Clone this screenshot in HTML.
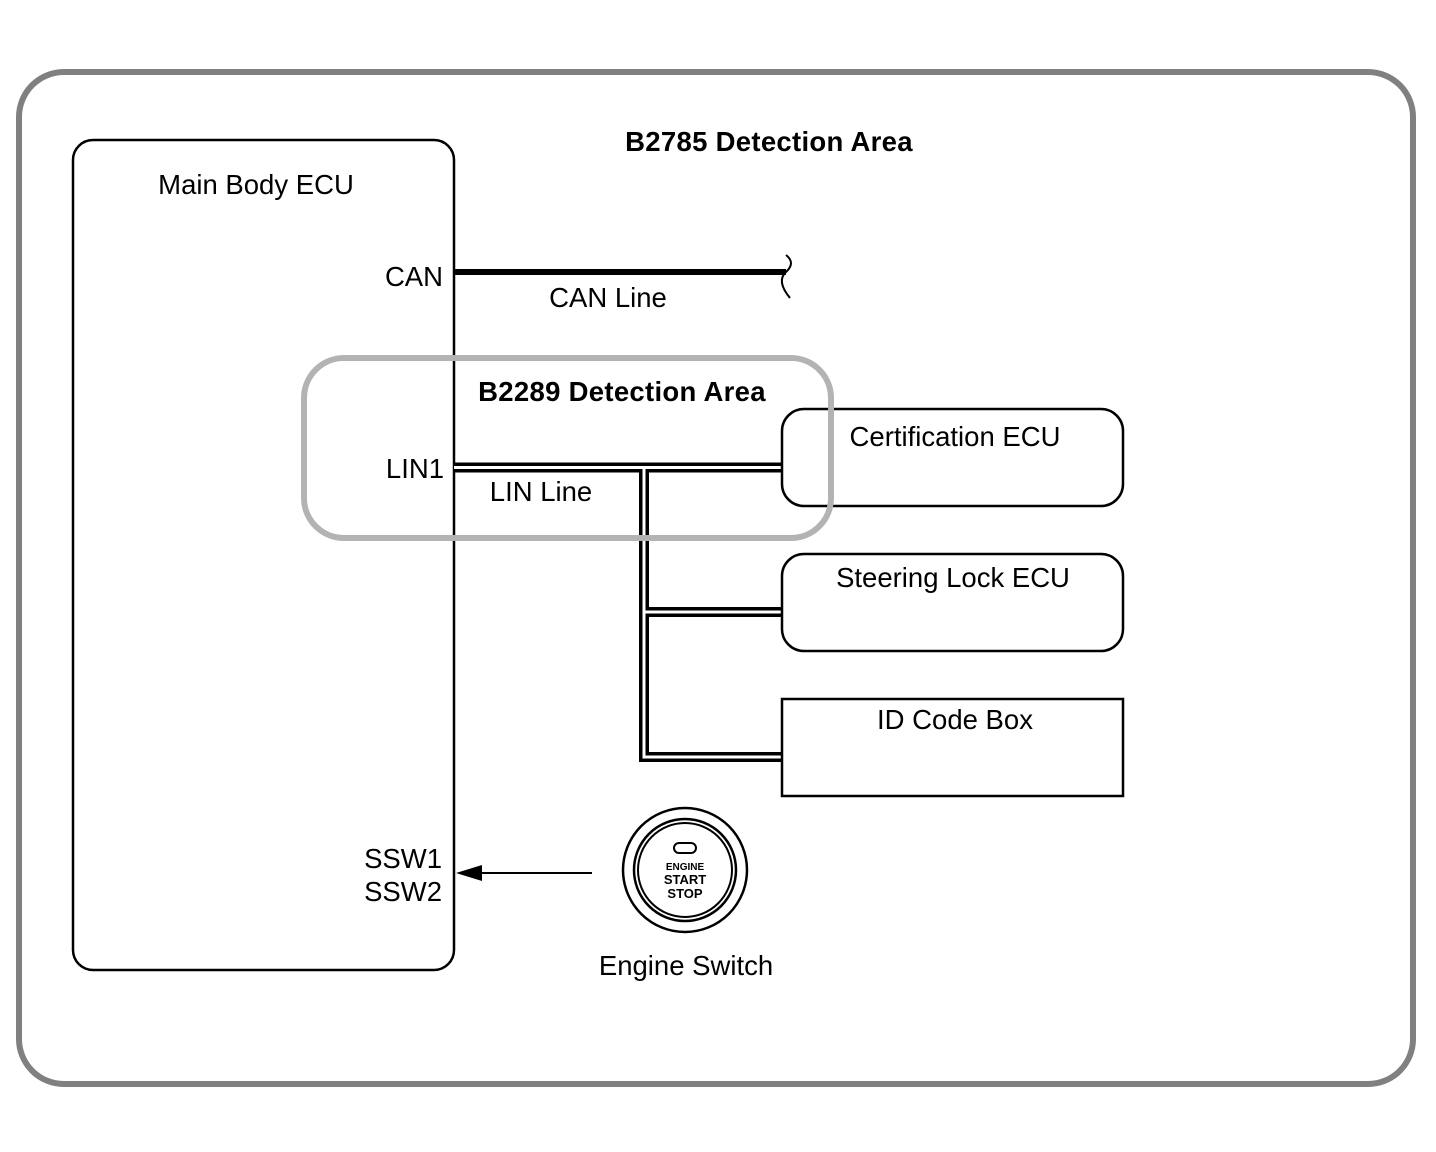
<!DOCTYPE html>
<html><head><style>body{margin:0;background:#fff}svg{display:block}text{font-family:"Liberation Sans",Arial,sans-serif;fill:#000}</style></head><body>
<svg width="1436" height="1152" viewBox="0 0 1436 1152">
<rect x="0" y="0" width="1436" height="1152" fill="#fff"/>
<rect x="19" y="72" width="1394" height="1012" rx="45" fill="none" stroke="#808080" stroke-width="6"/>
<text x="769" y="151" font-size="27.5" font-weight="bold" text-anchor="middle" letter-spacing="0.3">B2785 Detection Area</text>
<rect x="73" y="140" width="381" height="830" rx="20" fill="none" stroke="#000" stroke-width="2.5"/>
<text x="256" y="194" font-size="27.5" text-anchor="middle">Main Body ECU</text>
<text x="443" y="286" font-size="27.5" text-anchor="end">CAN</text>
<line x1="454" y1="272" x2="786" y2="272" stroke="#000" stroke-width="6"/>
<path d="M786,255 q10,8 0,17 q-10,9 4,26" fill="none" stroke="#000" stroke-width="2"/>
<text x="608" y="307" font-size="27.5" text-anchor="middle">CAN Line</text>
<text x="444" y="478" font-size="27.5" text-anchor="end">LIN1</text>
<text x="541" y="501" font-size="27.5" text-anchor="middle">LIN Line</text>
<g fill="none" stroke-linejoin="miter">
<path d="M454,467.5 H782 M644,467.5 V757 H782 M644,612 H782" stroke="#000" stroke-width="10"/>
<path d="M454,467.5 H782 M644,467.5 V757 H782 M644,612 H782" stroke="#fff" stroke-width="3"/>
</g>
<rect x="782" y="409" width="341" height="97" rx="22" fill="none" stroke="#000" stroke-width="2.5"/>
<text x="955" y="446" font-size="27.5" text-anchor="middle">Certification ECU</text>
<rect x="782" y="554" width="341" height="97" rx="22" fill="none" stroke="#000" stroke-width="2.5"/>
<text x="953" y="587" font-size="27.5" text-anchor="middle">Steering Lock ECU</text>
<rect x="782" y="699" width="341" height="97" fill="none" stroke="#000" stroke-width="2.5"/>
<text x="955" y="729" font-size="27.5" text-anchor="middle">ID Code Box</text>
<rect x="304" y="358" width="527" height="180" rx="40" fill="none" stroke="#b3b3b3" stroke-width="6"/>
<text x="622" y="401" font-size="27.5" font-weight="bold" text-anchor="middle" letter-spacing="0.3">B2289 Detection Area</text>
<text x="442" y="868" font-size="27.5" text-anchor="end">SSW1</text>
<text x="442" y="901" font-size="27.5" text-anchor="end">SSW2</text>
<line x1="592" y1="873" x2="480" y2="873" stroke="#000" stroke-width="2"/>
<polygon points="456,873 482,865 482,881" fill="#000"/>
<circle cx="685" cy="870" r="62" fill="none" stroke="#000" stroke-width="2.5"/>
<circle cx="685" cy="870" r="51" fill="none" stroke="#000" stroke-width="2.5"/>
<circle cx="685" cy="870" r="47" fill="none" stroke="#000" stroke-width="2"/>
<rect x="674" y="843" width="22" height="10" rx="5" fill="none" stroke="#000" stroke-width="2"/>
<text x="685" y="870" font-size="10" font-weight="bold" text-anchor="middle">ENGINE</text>
<text x="685" y="884" font-size="13" font-weight="bold" text-anchor="middle">START</text>
<text x="685" y="898" font-size="13" font-weight="bold" text-anchor="middle">STOP</text>
<text x="686" y="975" font-size="27.5" text-anchor="middle">Engine Switch</text>
</svg>
</body></html>
